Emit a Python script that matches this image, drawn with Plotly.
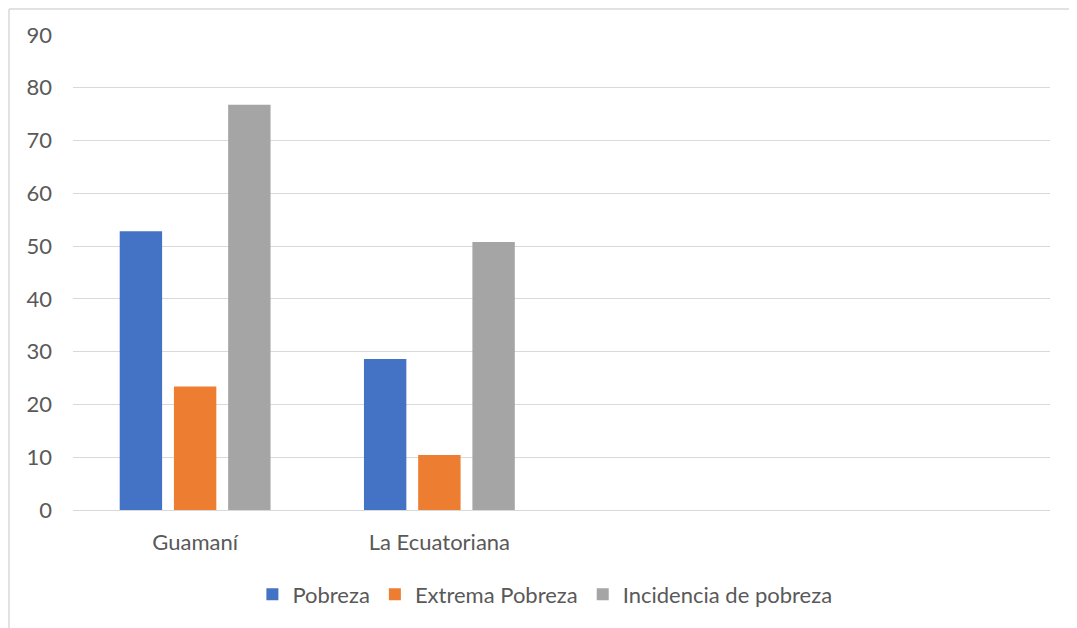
import plotly.graph_objects as go

categories = ["Guamaní", "La Ecuatoriana"]
pobreza = [52.8, 28.6]
extrema_pobreza = [23.4, 10.4]
incidencia = [76.8, 50.8]
series_names = ["Pobreza", "Extrema Pobreza", "Incidencia de pobreza"]
colors = ["#4472C4", "#ED7D31", "#A5A5A5"]
y_ticks = [0, 10, 20, 30, 40, 50, 60, 70, 80, 90]

FONT = "Lato"
TXT = "#595959"
GRID = "#D9D9D9"
FS = 22

fig = go.Figure()
for name, vals, col in zip(series_names, [pobreza, extrema_pobreza, incidencia], colors):
    fig.add_trace(go.Bar(x=categories, y=vals, name=name, marker=dict(color=col, line=dict(width=0))))

# page body has an 8px margin; compensate
OFF = 8
W, H = 1077 - OFF, 628 - OFF
ml, mt = 73 - OFF, 35 - OFF
pw, ph = 977, 475.5
mr = W - ml - pw
mb = H - mt - ph

fig.update_layout(
    width=W, height=H,
    margin=dict(l=ml, r=mr, t=mt, b=mb, pad=0),
    paper_bgcolor="white", plot_bgcolor="white",
    barmode="group", bargap=0.334, bargroupgap=0.218,
    font=dict(family=FONT, size=FS, color=TXT),
    showlegend=True,
    legend=dict(orientation="h", xanchor="center", yanchor="middle",
                x=0.483, y=-84.5 / ph, font=dict(family=FONT, size=FS, color=TXT),
                itemwidth=30, traceorder="normal"),
    xaxis=dict(type="category", range=[-0.5, 3.5], showgrid=False,
               showline=True, linecolor=GRID, linewidth=1.3, ticks="",
               ticklabelstandoff=12, tickfont=dict(family=FONT, size=FS, color=TXT),
               fixedrange=True),
    yaxis=dict(range=[0, 90], tickvals=y_ticks, showgrid=True, gridcolor=GRID, gridwidth=1.3,
               zeroline=False, showline=False, ticks="", ticklabelstandoff=20,
               tickfont=dict(family=FONT, size=FS, color=TXT), fixedrange=True),
    shapes=[
        dict(type="line", xref="paper", yref="paper",
             x0=(1 - ml) / pw, x1=(W + 5 - ml) / pw, y0=(H - 1 - mb) / ph, y1=(H - 1 - mb) / ph,
             line=dict(color=GRID, width=1.5)),
        dict(type="line", xref="paper", yref="paper",
             x0=(1 - ml) / pw, x1=(1 - ml) / pw, y0=(H - 1 - mb) / ph, y1=(-5 - mb) / ph,
             line=dict(color=GRID, width=1.5)),
    ],
)

fig.write_html("out.html")
